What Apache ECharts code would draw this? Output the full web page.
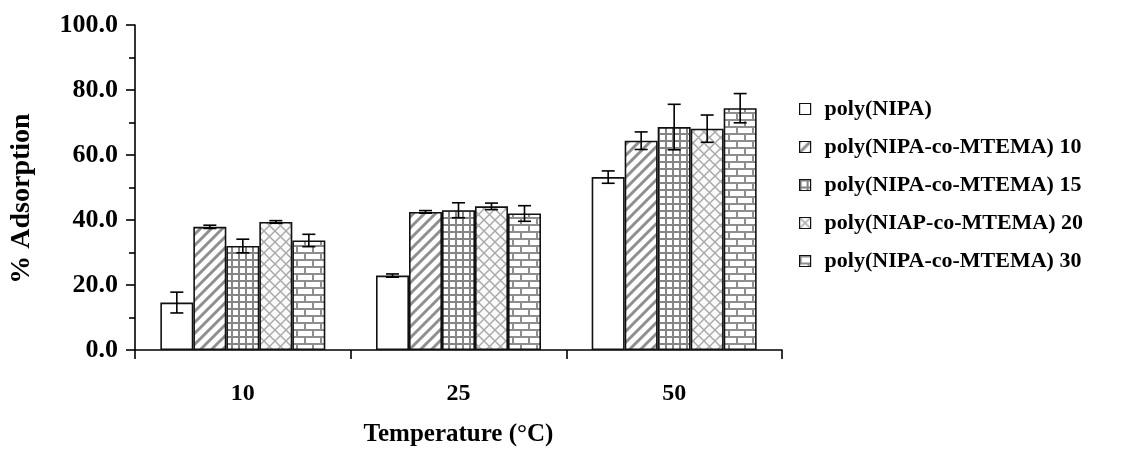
<!DOCTYPE html>
<html>
<head>
<meta charset="utf-8">
<script src="https://cdn.jsdelivr.net/npm/echarts@6/dist/echarts.min.js"></script>
<style>
html,body{margin:0;padding:0;background:#fff;}
#chart{width:1138px;height:450px;}
</style>
</head>
<body>
<div id="chart"></div>
<script>
// ---- data ----
const categories = ['10', '25', '50'];
const seriesNames = ['poly(NIPA)', 'poly(NIPA-co-MTEMA) 10', 'poly(NIPA-co-MTEMA) 15', 'poly(NIAP-co-MTEMA) 20', 'poly(NIPA-co-MTEMA) 30'];
const nipa      = [14.6, 22.9, 53.2];
const mtema10   = [37.9, 42.5, 64.4];
const mtema15   = [32.0, 43.0, 68.6];
const niap20    = [39.4, 44.2, 68.1];
const mtema30   = [33.7, 42.0, 74.4];
const errNipa    = [3.2, 0.5, 1.9];
const errMtema10 = [0.5, 0.4, 2.7];
const errMtema15 = [2.1, 2.3, 7.0];
const errNiap20  = [0.4, 1.0, 4.2];
const errMtema30 = [1.9, 2.4, 4.5];
const yTicks = [0, 20, 40, 60, 80, 100];

const values = [nipa, mtema10, mtema15, niap20, mtema30];
const errors = [errNipa, errMtema10, errMtema15, errNiap20, errMtema30];

// ---- patterns ----
function makeCanvas(w, h, draw) {
  const c = document.createElement('canvas');
  c.width = w; c.height = h;
  const ctx = c.getContext('2d');
  ctx.fillStyle = '#ffffff';
  ctx.fillRect(0, 0, w, h);
  draw(ctx, w, h);
  return c;
}
const patStripe = makeCanvas(11, 11, (ctx, w, h) => {
  ctx.strokeStyle = '#8f8f8f'; ctx.lineWidth = 3;
  ctx.beginPath();
  ctx.moveTo(-5.5, 5.5); ctx.lineTo(5.5, -5.5);
  ctx.moveTo(0, 11); ctx.lineTo(11, 0);
  ctx.moveTo(5.5, 16.5); ctx.lineTo(16.5, 5.5);
  ctx.stroke();
});
const patGrid = makeCanvas(7, 7, (ctx, w, h) => {
  ctx.fillStyle = '#858585';
  ctx.fillRect(0, 0, 2, h);
  ctx.fillRect(0, 0, w, 2);
});
const patDiamond = makeCanvas(11, 11, (ctx, w, h) => {
  ctx.fillStyle = '#fafafa'; ctx.fillRect(0, 0, w, h);
  ctx.strokeStyle = '#a8a8a8'; ctx.lineWidth = 1.4;
  ctx.beginPath();
  ctx.moveTo(0, 0); ctx.lineTo(w, h);
  ctx.moveTo(w, 0); ctx.lineTo(0, h);
  ctx.stroke();
});
const patBrick = makeCanvas(16, 14, (ctx, w, h) => {
  ctx.fillStyle = '#8e8e8e';
  ctx.fillRect(0, 0, w, 2);
  ctx.fillRect(0, 7, w, 2);
  ctx.fillRect(0, 0, 2, 7);
  ctx.fillRect(8, 7, 2, 7);
});
const fills = [
  '#ffffff',
  { image: patStripe, repeat: 'repeat' },
  { image: patGrid, repeat: 'repeat' },
  { image: patDiamond, repeat: 'repeat' },
  { image: patBrick, repeat: 'repeat' }
];

const GAP = 0.235;
const N = seriesNames.length;
const font = "'Liberation Serif', 'Times New Roman', serif";

const barSeries = seriesNames.map((name, i) => ({
  name: name,
  type: 'bar',
  data: values[i],
  barGap: '0%',
  barCategoryGap: (GAP * 100) + '%',
  itemStyle: { color: fills[i], borderColor: '#111', borderWidth: 1.6 },
  emphasis: { disabled: true }
}));

const errData = [];
values.forEach((arr, s) => arr.forEach((v, c) => errData.push([c, s, v, errors[s][c]])));

const errSeries = {
  type: 'custom',
  name: 'err',
  data: errData,
  z: 10,
  renderItem: function (params, api) {
    const c = api.value(0), s = api.value(1), v = api.value(2), e = api.value(3);
    const catW = api.size([1, 0])[0];
    const bw = catW * (1 - GAP) / N;
    const off = (s - (N - 1) / 2) * bw;
    const top = api.coord([c, v + e]);
    const bot = api.coord([c, v - e]);
    const x = top[0] + off;
    const cap = 6.5;
    const st = { stroke: '#000', lineWidth: 1.6 };
    return {
      type: 'group',
      children: [
        { type: 'line', shape: { x1: x, y1: top[1], x2: x, y2: bot[1] }, style: st },
        { type: 'line', shape: { x1: x - cap, y1: top[1], x2: x + cap, y2: top[1] }, style: st },
        { type: 'line', shape: { x1: x - cap, y1: bot[1], x2: x + cap, y2: bot[1] }, style: st }
      ]
    };
  }
};

const chart = echarts.init(document.getElementById('chart'), null, { renderer: 'canvas' });
chart.setOption({
  backgroundColor: '#ffffff',
  animation: false,
  grid: { left: 135, right: 356, top: 25, bottom: 100, containLabel: false, outerBoundsMode: 'none' },
  legend: {
    data: seriesNames,
    orient: 'vertical',
    left: 794,
    top: 92,
    icon: 'rect',
    itemWidth: 11,
    itemHeight: 11,
    itemGap: 14,
    selectedMode: false,
    itemStyle: { borderColor: '#111', borderWidth: 1.2 },
    textStyle: { fontFamily: font, fontWeight: 'bold', fontSize: 22, color: '#000', lineHeight: 24, padding: [0, 0, 0, 9] }
  },
  xAxis: {
    type: 'category',
    data: categories,
    name: 'Temperature (°C)',
    nameLocation: 'middle',
    nameGap: 72,
    nameTextStyle: { fontFamily: font, fontWeight: 'bold', fontSize: 25, color: '#000' },
    axisLine: { lineStyle: { color: '#000', width: 1.6 } },
    axisTick: { show: true, length: 9, alignWithLabel: false, lineStyle: { color: '#000', width: 1.6 } },
    axisLabel: { margin: 32, fontFamily: font, fontWeight: 'bold', fontSize: 24, color: '#000' },
    splitLine: { show: false }
  },
  yAxis: {
    type: 'value',
    min: yTicks[0],
    max: yTicks[yTicks.length - 1],
    interval: yTicks[1] - yTicks[0],
    name: '% Adsorption',
    nameLocation: 'middle',
    nameGap: 99,
    nameRotate: 90,
    nameTextStyle: { fontFamily: font, fontWeight: 'bold', fontSize: 28, color: '#000', padding: [0, 22, 0, 0] },
    axisLine: { show: true, lineStyle: { color: '#000', width: 1.6 } },
    axisTick: { show: true, length: 9, lineStyle: { color: '#000', width: 1.6 } },
    minorTick: { show: true, splitNumber: 2, length: 6, lineStyle: { color: '#000', width: 1.6 } },
    axisLabel: { margin: 17, fontFamily: font, fontWeight: 'bold', fontSize: 26, color: '#000', formatter: v => v.toFixed(1) },
    splitLine: { show: false }
  },
  series: barSeries.concat([errSeries])
});
</script>
</body>
</html>
